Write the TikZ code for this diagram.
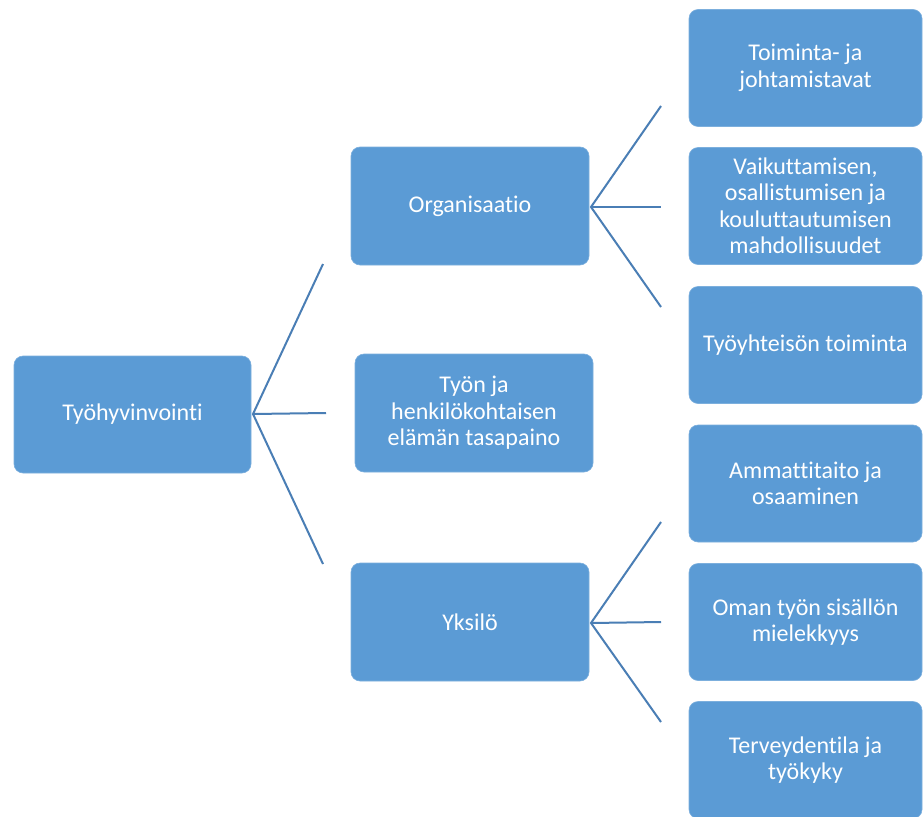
\documentclass[tikz,border=0pt]{standalone}
\usepackage{fontspec}
\setmainfont{Carlito}[Ligatures=NoCommon]
\begin{document}
\begin{tikzpicture}[x=1pt,y=-1pt,
  box/.style={rectangle, rounded corners=9pt, fill=boxblue, draw=boxblue!80!white, line width=0.6pt,
    text=white, align=center, inner sep=4pt,
    font=\fontsize{24}{26.5}\selectfont},
  rootbox/.style={box, minimum width=237pt, minimum height=117pt},
  midbox/.style={box, minimum width=238pt, minimum height=118pt},
  leafbox/.style={box, minimum width=233pt, minimum height=117pt},
  link/.style={draw=linkblue, line width=2pt}]
\definecolor{boxblue}{HTML}{5B9BD5}
\definecolor{linkblue}{HTML}{4A7EB5}
\useasboundingbox (0,0) rectangle (923,816);
\clip (0,0) rectangle (923,816);
\fill[white] (0,0) rectangle (923,816);

% root
\node[rootbox] (root) at (132.5,414.5) {Työhyvinvointi};

% second level
\node[midbox] (org) at (470,206) {Organisaatio};
\node[midbox] (bal) at (474,413) {Työn ja\\henkilökohtaisen\\elämän tasapaino};
\node[midbox] (ind) at (470,622) {Yksilö};

% leaves
\node[leafbox] (l1) at (805.5,68) {Toiminta- ja\\johtamistavat};
\node[leafbox] (l2) at (805.5,206) {Vaikuttamisen,\\osallistumisen ja\\kouluttautumisen\\mahdollisuudet};
\node[leafbox] (l3) at (805.5,345) {Työyhteisön toiminta};
\node[leafbox] (l4) at (805.5,483.5) {Ammattitaito ja\\osaaminen};
\node[leafbox] (l5) at (805.5,622) {Oman työn sisällön\\mielekkyys};
\node[leafbox] (l6) at (805.5,760) {Terveydentila ja\\työkyky};

% branch points and free ends
\coordinate (r0) at (253,414);
\coordinate (r1) at (323,264);
\coordinate (r2) at (326,413);
\coordinate (r3) at (323,564);
\coordinate (o0) at (591,207);
\coordinate (o1) at (661,106);
\coordinate (o2) at (661,207);
\coordinate (o3) at (661,307);
\coordinate (i0) at (591,623);
\coordinate (i1) at (661,522);
\coordinate (i2) at (661,622);
\coordinate (i3) at (661,722);

\draw[link] (r1) -- (r0) -- (r3);
\draw[link] (r0) -- (r2);
\draw[link] (o1) -- (o0) -- (o3);
\draw[link] (o0) -- (o2);
\draw[link] (i1) -- (i0) -- (i3);
\draw[link] (i0) -- (i2);
\end{tikzpicture}
\end{document}
